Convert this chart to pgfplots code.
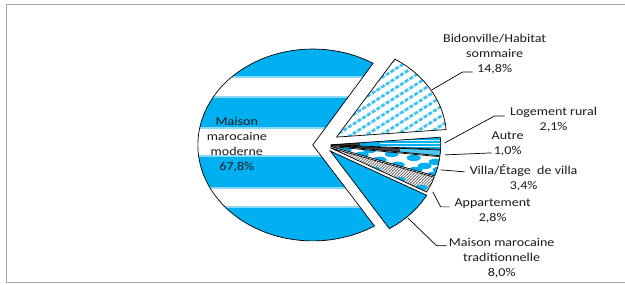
\documentclass[border=0pt]{standalone}
\usepackage{fontspec}
\setmainfont{Carlito}[FakeStretch=1.17]
\usepackage{pgfplots}
\usepackage{pgfplotstable}
\pgfplotsset{compat=1.18}
\usetikzlibrary{patterns}
\definecolor{pblue}{HTML}{00B0F0}
\definecolor{lblue}{HTML}{8AD8F8}
\definecolor{frm}{HTML}{A6A6A6}
\definecolor{txt}{HTML}{1A1A1A}

% slices in clockwise order, starting at the top of "Bidonville"
\pgfplotstableread{
id value explode
bid 14.8 15
rural 2.1 7
autre 1.0 7
villa 3.4 7
appart 2.8 7
trad 8.0 9
main 67.8 11
}\piedata

\pgfplotstablegetelem{0}{value}\of\piedata \pgfmathsetmacro\vA{\pgfplotsretval}
\pgfplotstablegetelem{1}{value}\of\piedata \pgfmathsetmacro\vB{\pgfplotsretval}
\pgfplotstablegetelem{2}{value}\of\piedata \pgfmathsetmacro\vC{\pgfplotsretval}
\pgfplotstablegetelem{3}{value}\of\piedata \pgfmathsetmacro\vD{\pgfplotsretval}
\pgfplotstablegetelem{4}{value}\of\piedata \pgfmathsetmacro\vE{\pgfplotsretval}
\pgfplotstablegetelem{5}{value}\of\piedata \pgfmathsetmacro\vF{\pgfplotsretval}
\pgfplotstablegetelem{6}{value}\of\piedata \pgfmathsetmacro\vG{\pgfplotsretval}
\pgfplotstablegetelem{0}{explode}\of\piedata \pgfmathsetmacro\eA{\pgfplotsretval}
\pgfplotstablegetelem{1}{explode}\of\piedata \pgfmathsetmacro\eB{\pgfplotsretval}
\pgfplotstablegetelem{2}{explode}\of\piedata \pgfmathsetmacro\eC{\pgfplotsretval}
\pgfplotstablegetelem{3}{explode}\of\piedata \pgfmathsetmacro\eD{\pgfplotsretval}
\pgfplotstablegetelem{4}{explode}\of\piedata \pgfmathsetmacro\eE{\pgfplotsretval}
\pgfplotstablegetelem{5}{explode}\of\piedata \pgfmathsetmacro\eF{\pgfplotsretval}
\pgfplotstablegetelem{6}{explode}\of\piedata \pgfmathsetmacro\eG{\pgfplotsretval}

\def\aZ{58}
\pgfmathsetmacro\aA{\aZ-3.6*\vA}
\pgfmathsetmacro\aB{\aA-3.6*\vB}
\pgfmathsetmacro\aC{\aB-3.6*\vC}
\pgfmathsetmacro\aD{\aC-3.6*\vD}
\pgfmathsetmacro\aE{\aD-3.6*\vE}
\pgfmathsetmacro\aF{\aE-3.6*\vF}
\pgfmathsetmacro\aG{\aF-3.6*\vG}

\def\cx{324}\def\cy{145}
\pgfmathsetmacro\xA{\cx+\eA*cos((\aZ+\aA)/2)}\pgfmathsetmacro\yA{\cy-\eA*sin((\aZ+\aA)/2)}
\pgfmathsetmacro\xB{\cx+\eB*cos((\aA+\aB)/2)}\pgfmathsetmacro\yB{\cy-\eB*sin((\aA+\aB)/2)}
\pgfmathsetmacro\xC{\cx+\eC*cos((\aB+\aC)/2)}\pgfmathsetmacro\yC{\cy-\eC*sin((\aB+\aC)/2)}
\pgfmathsetmacro\xD{\cx+\eD*cos((\aC+\aD)/2)}\pgfmathsetmacro\yD{\cy-\eD*sin((\aC+\aD)/2)}
\pgfmathsetmacro\xE{\cx+\eE*cos((\aD+\aE)/2)}\pgfmathsetmacro\yE{\cy-\eE*sin((\aD+\aE)/2)}
\pgfmathsetmacro\xF{\cx+\eF*cos((\aE+\aF)/2)}\pgfmathsetmacro\yF{\cy-\eF*sin((\aE+\aF)/2)}
\pgfmathsetmacro\xG{\cx+\eG*cos((\aF+\aG)/2)}\pgfmathsetmacro\yG{\cy-\eG*sin((\aF+\aG)/2)}

% wedge path: apex x, apex y, start angle, end angle, x radius, y radius
\newcommand\slicepath[6]{(axis cs:#1,#2) -- ++(#3:#5pt and #6pt) arc[start angle=#3, end angle=#4, x radius=#5pt, y radius=#6pt] -- cycle}

\begin{document}
\begin{tikzpicture}
\begin{axis}[x=1pt, y=1pt, xmin=0, xmax=625, ymin=0, ymax=285, y dir=reverse,
  hide axis, scale only axis, clip=false]
\addplot[draw=none] coordinates {(0,0) (625,285)};
\pgfplotsextra{%
% frame (its right edge lies beyond the picture)
\draw[frm, line width=0.9pt] (axis cs:625,4) -- (axis cs:6,4) -- (axis cs:6,283) -- (axis cs:625,283);
% main slice with horizontal bands
\begin{scope}
\clip \slicepath{\xG}{\yG}{\aF}{\aG}{115}{96};
\fill[white] (axis cs:150,30) rectangle (axis cs:420,260);
\foreach \ya/\yb in {30/78, 96/129, 155/189, 206/260}{
  \fill[lblue] (axis cs:150,\ya) rectangle (axis cs:420,\yb);
  \fill[pblue] (axis cs:150,\ya+2) rectangle (axis cs:420,\yb-2);
}
\end{scope}
\draw[black, line width=0.7pt] \slicepath{\xG}{\yG}{\aF}{\aG}{115}{96};
% bidonville: white with dashed diagonal blue lines
\begin{scope}
\clip \slicepath{\xA}{\yA}{\aZ}{\aA}{110}{92};
\fill[white] (axis cs:320,30) rectangle (axis cs:460,150);
\foreach \k in {0,...,18}{
  \draw[pblue!75!white, line width=2.8pt, dash pattern=on 4pt off 1.6pt]
    (axis cs:320,{60+9.5*\k}) -- (axis cs:470,{60+9.5*\k-95});
}
\end{scope}
\draw[black, line width=0.7pt] \slicepath{\xA}{\yA}{\aZ}{\aA}{110}{92};
% logement rural: fine horizontal blue/white stripes
\begin{scope}
\clip \slicepath{\xB}{\yB}{\aA}{\aB}{110}{92};
\fill[pblue] (axis cs:320,120) rectangle (axis cs:460,160);
\foreach \k in {0,...,12}{
  \fill[white!70!lblue] (axis cs:380,{125+3*\k}) rectangle (axis cs:460,{126+3*\k});
}
\fill[black!80] (axis cs:320,120) rectangle (axis cs:360,160);
\end{scope}
\draw[black, line width=0.7pt] \slicepath{\xB}{\yB}{\aA}{\aB}{110}{92};
% autre: dark stripes
\begin{scope}
\clip \slicepath{\xC}{\yC}{\aB}{\aC}{110}{92};
\fill[black!75] (axis cs:320,130) rectangle (axis cs:460,170);
\fill[pblue!70] (axis cs:400,130) rectangle (axis cs:460,170);
\end{scope}
\draw[black, line width=0.7pt] \slicepath{\xC}{\yC}{\aB}{\aC}{110}{92};
% villa: white with blue blobs
\begin{scope}
\clip \slicepath{\xD}{\yD}{\aC}{\aD}{110}{92};
\fill[white] (axis cs:320,140) rectangle (axis cs:460,190);
\foreach \px/\py in {345/150, 362/155, 380/160, 398/165, 416/170, 434/175,
                     370/150, 392/154, 414/158, 436/162, 354/158, 406/176,
                     425/166, 388/168, 440/170}{
  \fill[pblue] (axis cs:\px,\py) ellipse[x radius=7pt, y radius=3.2pt];
}
\end{scope}
\draw[black, line width=0.7pt] \slicepath{\xD}{\yD}{\aC}{\aD}{110}{92};
% appartement: dark dashed lines
\begin{scope}
\clip \slicepath{\xE}{\yE}{\aD}{\aE}{110}{92};
\fill[white] (axis cs:320,140) rectangle (axis cs:460,210);
\fill[pattern=north east lines, pattern color=black] (axis cs:320,140) rectangle (axis cs:460,210);
\foreach \px/\py in {375/170, 400/180, 422/188}{
  \fill[pblue] (axis cs:\px,\py) ellipse[x radius=6pt, y radius=3pt];
}
\end{scope}
\draw[black, line width=0.7pt] \slicepath{\xE}{\yE}{\aD}{\aE}{110}{92};
% maison traditionnelle: solid blue
\fill[pblue, draw=black, line width=0.7pt] \slicepath{\xF}{\yF}{\aE}{\aF}{110}{92};
% leader lines
\draw[black, line width=0.7pt] (axis cs:432,90) -- (axis cs:463,72) -- (axis cs:473,72);
\draw[black, line width=0.7pt] (axis cs:445,143) -- (axis cs:495,116) -- (axis cs:505,116);
\draw[black, line width=0.7pt] (axis cs:445,155) -- (axis cs:492,153);
\draw[black, line width=0.7pt] (axis cs:441,170) -- (axis cs:465,172);
\draw[black, line width=0.7pt] (axis cs:433,192) -- (axis cs:441,207) -- (axis cs:450,207);
\draw[black, line width=0.7pt] (axis cs:408,218) -- (axis cs:437,246) -- (axis cs:447,246);
% labels
\tikzset{lab/.style={align=center, inner sep=0pt, text=txt, font=\fontsize{12}{15}\selectfont}}
\node[lab] at (axis cs:237,145) {Maison\\marocaine\\moderne\\67,8\%};
\node[lab] at (axis cs:495,54) {Bidonville/Habitat\\sommaire\\14,8\%};
\node[lab] at (axis cs:554,120) {Logement rural\\2,1\%};
\node[lab] at (axis cs:508,144) {Autre\\1,0\%};
\node[lab] at (axis cs:524,178) {Villa/Étage\ \ de villa\\3,4\%};
\node[lab] at (axis cs:493,211) {Appartement\\2,8\%};
\node[lab] at (axis cs:502,258) {Maison marocaine\\traditionnelle\\8,0\%};
}
\end{axis}
\end{tikzpicture}
\end{document}
